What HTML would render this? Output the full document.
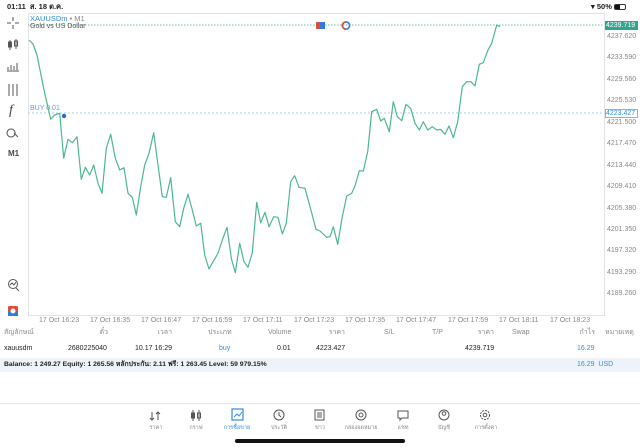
<!DOCTYPE html>
<html><head><meta charset="utf-8"><style>
*{margin:0;padding:0;box-sizing:border-box}
body{width:640px;height:447px;background:#fff;position:relative;overflow:hidden;font-family:"Liberation Sans","Noto Sans CJK SC",sans-serif;color:#222}
.t{position:absolute;white-space:nowrap;font-size:7px;line-height:8px}
.g{color:#888}
.r{text-align:right}
.b{color:#2f8de4}
</style></head><body>
<div class="t" style="left:7px;top:3px;font-size:7.5px;font-weight:bold">01:11 &nbsp;ส. 18 ต.ค.</div>
<div class="t" style="left:591px;top:3px;font-size:7.5px;font-weight:bold">▾ 50% <span style="display:inline-block;width:12px;height:6px;border:1px solid #333;border-radius:2px;vertical-align:-1px;background:linear-gradient(90deg,#111 50%,transparent 50%)"></span></div>

<svg width="640" height="447" style="position:absolute;left:0;top:0" xmlns="http://www.w3.org/2000/svg">
<rect x="28.5" y="13.5" width="576" height="302" fill="none" stroke="#e3e3e3"/>
<line x1="28" y1="25" x2="604" y2="25" stroke="#3ab09a" stroke-width="0.8" stroke-dasharray="1.5,1.5"/>
<line x1="28" y1="113" x2="604" y2="113" stroke="#8fc4e8" stroke-width="0.8" stroke-dasharray="2,2"/>
<polyline fill="none" stroke="#4cb88e" stroke-width="1.2" stroke-linejoin="round" points="29,40 33,44 37,55 40,70 44,90 50.7,119.3 54.7,115 59.7,113.3 63.7,158.3 68,139.3 72.3,142.7 77,136.7 81.3,179.3 85.3,167.3 89.7,175 93.7,165 98,183.3 102,193.3 106.3,148.3 110.7,134.3 115.3,158.3 119.7,170 124,167.7 128,193.3 132.3,197.3 136.3,215 140.7,186.7 144.7,165 149,153.3 153.7,132.7 158,165 162.3,196.7 166.3,197.3 170.7,177.7 175.3,221.7 179.7,226.7 183.7,208.3 188,194.3 192.3,210 196.3,226 200.7,223.3 204.7,255 209,269 213,261.7 218,253.3 222.3,240 227,227.3 231.3,258.3 235.3,272.7 239.7,243.3 244,261.7 248,267.3 252.3,252.7 256.7,202.3 260.7,222.7 265,212.3 269,226.7 273.7,216.7 278,217.3 282.3,234 286.3,223.3 290.7,181.7 294.7,175.7 299,187.3 305,188.3 310,206.7 316,229.3 320,231 326.7,237.3 330,236.7 333.3,226.7 337.7,244.3 342.3,216.7 346.7,196 351.7,193.3 355,186 359.3,170.7 363.3,171 367.7,151.7 371.7,111.7 376.7,109.3 380.7,121 384.3,118.3 389.3,131.7 393.3,101.7 397.3,116.7 401.7,120.7 406,104.3 410.7,108.3 415,123.3 419.3,130 423.3,121.7 427.7,130 432.3,126.7 436.7,130 440.7,129.3 445,134.3 449,126 453.3,137.7 457.7,121.7 462.3,86.7 466.7,81.7 471,81.7 475,86 479.3,64.3 483.3,62.7 487.7,50.7 491.7,43.3 496.7,25 500,26.7"/>
<circle cx="64" cy="116" r="2.2" fill="#1e6fd9"/>
<rect x="316" y="22" width="9" height="7" rx="1" fill="#e04b3a"/><rect x="320" y="22" width="5" height="7" fill="#2f7be0"/>
<circle cx="346" cy="25.5" r="3.6" fill="none" stroke="#2f7be0" stroke-width="1.6"/><path d="M346 21.9 A3.6 3.6 0 0 0 346 29.1" fill="none" stroke="#e04b3a" stroke-width="1.6"/>
<rect x="605" y="21" width="33" height="9" fill="#2fa58f"/>
<rect x="605.5" y="109.5" width="32" height="8" fill="#fff" stroke="#7ab6e6"/>
<!-- left toolbar icons -->
<g stroke="#555" stroke-width="1" fill="none">
<path d="M13 17v4M13 25v4M7 23h4M15 23h4"/>
<path d="M10 40v10M16 39v10"/><rect x="8.5" y="42" width="3" height="5" fill="#555"/><rect x="14.5" y="41" width="3" height="5"/>
<path d="M7 71h12M8 70v-3M11 70v-5M14 70v-4M17 70v-7"/>
<path d="M9 84v12M13 84v12M17 84v12"/>
<path d="M11 129a4 4 0 1 0 0.1 0M14 133l4 4"/>
<circle cx="13" cy="284" r="4.5"/><path d="M10 285l2-2 2 2 2-3M16 288l3 3"/>
</g>
<rect x="8" y="306" width="10" height="10" rx="1.5" fill="#e04b3a"/><rect x="8" y="311" width="10" height="5" fill="#2f7be0"/><circle cx="13" cy="311" r="2.5" fill="#fff"/>
<text x="9" y="114" font-size="14" font-style="italic" fill="#444" font-family="Liberation Serif">f</text>
<text x="8" y="156" font-size="8" font-weight="bold" fill="#444" font-family="Liberation Sans">M1</text>
<line x1="0" y1="403.5" x2="640" y2="403.5" stroke="#e6e6e6"/>
<rect x="235" y="439" width="170" height="4" rx="2" fill="#111"/>
<g stroke="#555" stroke-width="1" fill="none">
<path d="M152 412v8M150 418l2 2 2-2M158 420v-8M156 414l2-2 2 2"/>
<path d="M193 410v11M199 410v11"/><rect x="191.5" y="413" width="3" height="5" fill="#555"/><rect x="197.5" y="413" width="3" height="5"/>
<circle cx="279" cy="415" r="5"/><path d="M279 412v3l2 2"/>
<rect x="315" y="410" width="9" height="10"/><path d="M317 413h5M317 415h5M317 417h5"/>
<circle cx="361" cy="415" r="5"/><circle cx="361" cy="415" r="2"/>
<path d="M398 411h10v7h-6l-2 2v-2h-2z"/>
<circle cx="444" cy="415" r="5"/><circle cx="444" cy="413.5" r="1.8"/>
<circle cx="485" cy="415" r="4.5" stroke-dasharray="2,1"/><circle cx="485" cy="415" r="1.8"/>
</g>
<rect x="232" y="409" width="11" height="11" fill="none" stroke="#2f8de4" stroke-width="1.2"/><path d="M234 417l3-3 2 2 3-4" stroke="#2f8de4" fill="none"/>
</svg>

<div class="t b" style="left:30px;top:15px;font-size:7.5px">XAUUSDm <span class="g">• M1</span></div>
<div class="t" style="left:30px;top:23px;color:#555">Gold vs US Dollar</div>
<div class="t b" style="left:30px;top:105px;font-size:7px;color:#5aa0e0">BUY 0.01</div>

<div class="t" style="left:606px;top:21.5px;color:#fff">4239.719</div>
<div class="t b" style="left:606px;top:109.5px">4223.427</div>
<div class="t g" style="left:607px;top:33px">4237.620</div>
<div class="t g" style="left:607px;top:54px">4233.590</div>
<div class="t g" style="left:607px;top:76px">4229.560</div>
<div class="t g" style="left:607px;top:97px">4225.530</div>
<div class="t g" style="left:607px;top:119px">4221.500</div>
<div class="t g" style="left:607px;top:140px">4217.470</div>
<div class="t g" style="left:607px;top:162px">4213.440</div>
<div class="t g" style="left:607px;top:183px">4209.410</div>
<div class="t g" style="left:607px;top:205px">4205.380</div>
<div class="t g" style="left:607px;top:226px">4201.350</div>
<div class="t g" style="left:607px;top:247px">4197.320</div>
<div class="t g" style="left:607px;top:269px">4193.290</div>
<div class="t g" style="left:607px;top:290px">4189.260</div>

<div class="t g" style="left:39px;top:317px">17 Oct 16:23</div>
<div class="t g" style="left:90px;top:317px">17 Oct 16:35</div>
<div class="t g" style="left:141px;top:317px">17 Oct 16:47</div>
<div class="t g" style="left:192px;top:317px">17 Oct 16:59</div>
<div class="t g" style="left:243px;top:317px">17 Oct 17:11</div>
<div class="t g" style="left:294px;top:317px">17 Oct 17:23</div>
<div class="t g" style="left:345px;top:317px">17 Oct 17:35</div>
<div class="t g" style="left:396px;top:317px">17 Oct 17:47</div>
<div class="t g" style="left:448px;top:317px">17 Oct 17:59</div>
<div class="t g" style="left:499px;top:317px">17 Oct 18:11</div>
<div class="t g" style="left:550px;top:317px">17 Oct 18:23</div>

<div class="t g" style="left:4px;top:329px">สัญลักษณ์</div>
<div class="t g r" style="left:80px;width:28px;top:329px">ตั๋ว</div>
<div class="t g r" style="left:140px;width:32px;top:329px">เวลา</div>
<div class="t g" style="left:208px;top:329px">ประเภท</div>
<div class="t g" style="left:268px;top:329px">Volume</div>
<div class="t g r" style="left:315px;width:30px;top:329px">ราคา</div>
<div class="t g" style="left:384px;top:329px">S/L</div>
<div class="t g" style="left:432px;top:329px">T/P</div>
<div class="t g r" style="left:464px;width:30px;top:329px">ราคา</div>
<div class="t g" style="left:512px;top:329px">Swap</div>
<div class="t g r" style="left:565px;width:30px;top:329px">กำไร</div>
<div class="t g" style="left:605px;top:329px">หมายเหตุ</div>

<div class="t" style="left:4px;top:345px">xauusdm</div>
<div class="t" style="left:68px;top:345px">2680225040</div>
<div class="t" style="left:135px;top:345px">10.17 16:29</div>
<div class="t b" style="left:219px;top:345px">buy</div>
<div class="t" style="left:277px;top:345px">0.01</div>
<div class="t" style="left:316px;top:345px">4223.427</div>
<div class="t" style="left:465px;top:345px">4239.719</div>
<div class="t b" style="left:577px;top:345px">16.29</div>

<div style="position:absolute;left:0;top:358px;width:640px;height:14px;background:#eef3f9"></div>
<div class="t" style="left:4px;top:361px;font-weight:bold;font-size:6.8px">Balance: 1 249.27 Equity: 1 265.56 หลักประกัน: 2.11 ฟรี: 1 263.45 Level: 59 979.15%</div>
<div class="t b" style="left:577px;top:361px;font-size:7px">16.29 &nbsp;USD</div>

<div class="t g" style="left:147px;top:424px;width:18px;text-align:center;font-size:5.5px">ราคา</div>
<div class="t g" style="left:186px;top:424px;width:20px;text-align:center;font-size:5.5px">กราฟ</div>
<div class="t b" style="left:222px;top:424px;width:30px;text-align:center;font-size:5.5px">การซื้อขาย</div>
<div class="t g" style="left:267px;top:424px;width:24px;text-align:center;font-size:5.5px">ประวัติ</div>
<div class="t g" style="left:310px;top:424px;width:20px;text-align:center;font-size:5.5px">ข่าว</div>
<div class="t g" style="left:342px;top:424px;width:38px;text-align:center;font-size:5.5px">กล่องจดหมาย</div>
<div class="t g" style="left:393px;top:424px;width:20px;text-align:center;font-size:5.5px">แชท</div>
<div class="t g" style="left:434px;top:424px;width:20px;text-align:center;font-size:5.5px">บัญชี</div>
<div class="t g" style="left:472px;top:424px;width:28px;text-align:center;font-size:5.5px">การตั้งค่า</div>
</body></html>
